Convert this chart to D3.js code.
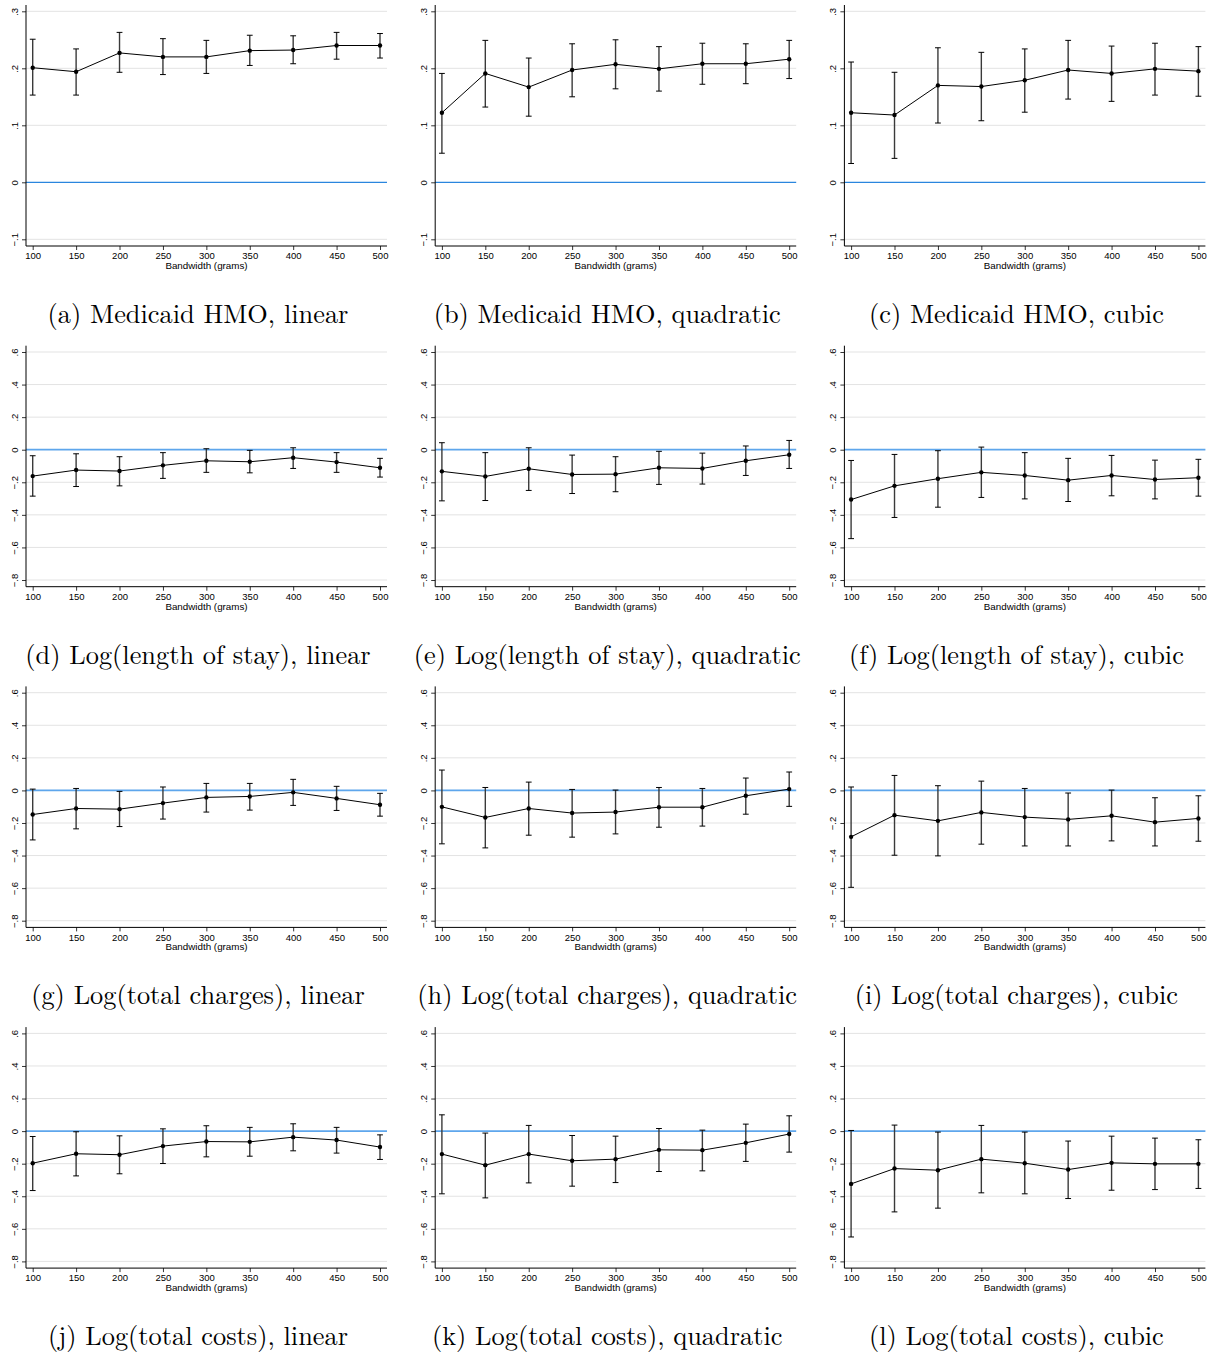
<!DOCTYPE html>
<html>
<head>
<meta charset="utf-8">
<script src="https://cdn.jsdelivr.net/npm/d3@7"></script>
<style>
  body { margin: 0; background: #fff; }
  svg { display: block; }
</style>
</head>
<body>
<div id="chart"></div>
<script>
// bandwidths on the x axis
const bandwidths = [100, 150, 200, 250, 300, 350, 400, 450, 500];

// y tick values
const yTicksHmo = [-0.1, 0, 0.1, 0.2, 0.3];
const yTicksLog = [-0.8, -0.6, -0.4, -0.2, 0, 0.2, 0.4, 0.6];

// (a) Medicaid HMO, linear
const hmoLinEst = [0.201, 0.194, 0.227, 0.220, 0.220, 0.231, 0.232, 0.240, 0.240];
const hmoLinHi  = [0.251, 0.234, 0.263, 0.252, 0.249, 0.258, 0.257, 0.263, 0.261];
const hmoLinLo  = [0.153, 0.153, 0.193, 0.189, 0.191, 0.205, 0.208, 0.216, 0.218];
// (b) Medicaid HMO, quadratic
const hmoQuadEst = [0.122, 0.191, 0.167, 0.197, 0.207, 0.199, 0.208, 0.208, 0.216];
const hmoQuadHi  = [0.191, 0.249, 0.218, 0.243, 0.250, 0.238, 0.244, 0.243, 0.249];
const hmoQuadLo  = [0.051, 0.132, 0.116, 0.150, 0.164, 0.160, 0.172, 0.173, 0.182];
// (c) Medicaid HMO, cubic
const hmoCubEst = [0.122, 0.118, 0.170, 0.168, 0.179, 0.197, 0.191, 0.199, 0.195];
const hmoCubHi  = [0.211, 0.193, 0.236, 0.228, 0.234, 0.249, 0.239, 0.244, 0.238];
const hmoCubLo  = [0.033, 0.042, 0.104, 0.108, 0.123, 0.146, 0.142, 0.153, 0.151];

// (d) Log(length of stay), linear
const losLinEst = [-0.162, -0.125, -0.131, -0.096, -0.068, -0.074, -0.049, -0.076, -0.111];
const losLinHi  = [-0.037, -0.025, -0.043, -0.018, 0.006, -0.004, 0.012, -0.018, -0.053];
const losLinLo  = [-0.285, -0.226, -0.222, -0.176, -0.139, -0.142, -0.115, -0.139, -0.168];
// (e) Log(length of stay), quadratic
const losQuadEst = [-0.133, -0.164, -0.117, -0.152, -0.150, -0.111, -0.115, -0.068, -0.031];
const losQuadHi  = [0.043, -0.018, 0.012, -0.033, -0.043, -0.010, -0.021, 0.023, 0.057];
const losQuadLo  = [-0.314, -0.312, -0.250, -0.269, -0.258, -0.213, -0.211, -0.158, -0.115];
// (f) Log(length of stay), cubic
const losCubEst = [-0.306, -0.222, -0.178, -0.139, -0.158, -0.187, -0.158, -0.183, -0.172];
const losCubHi  = [-0.066, -0.029, -0.006, 0.016, -0.018, -0.053, -0.035, -0.064, -0.059];
const losCubLo  = [-0.546, -0.416, -0.353, -0.293, -0.302, -0.318, -0.283, -0.302, -0.285];

// (g) Log(total charges), linear
const chgLinEst = [-0.148, -0.111, -0.115, -0.078, -0.043, -0.037, -0.012, -0.049, -0.088];
const chgLinHi  = [0.008, 0.012, -0.006, 0.021, 0.043, 0.043, 0.068, 0.025, -0.018];
const chgLinLo  = [-0.304, -0.236, -0.222, -0.176, -0.133, -0.121, -0.092, -0.123, -0.158];
// (h) Log(total charges), quadratic
const chgQuadEst = [-0.101, -0.166, -0.111, -0.139, -0.133, -0.103, -0.103, -0.033, 0.008];
const chgQuadHi  = [0.125, 0.018, 0.051, 0.006, 0.002, 0.018, 0.012, 0.076, 0.113];
const chgQuadLo  = [-0.328, -0.353, -0.275, -0.287, -0.267, -0.226, -0.219, -0.146, -0.098];
// (i) Log(total charges), cubic
const chgCubEst = [-0.285, -0.152, -0.187, -0.135, -0.164, -0.178, -0.156, -0.195, -0.172];
const chgCubHi  = [0.021, 0.092, 0.029, 0.057, 0.012, -0.016, 0.002, -0.045, -0.033];
const chgCubLo  = [-0.595, -0.398, -0.402, -0.330, -0.341, -0.341, -0.310, -0.341, -0.312];

// (j) Log(total costs), linear
const costLinEst = [-0.197, -0.139, -0.145, -0.092, -0.064, -0.066, -0.037, -0.055, -0.098];
const costLinHi  = [-0.033, -0.004, -0.029, 0.014, 0.033, 0.023, 0.045, 0.023, -0.023];
const costLinLo  = [-0.365, -0.275, -0.262, -0.199, -0.158, -0.154, -0.121, -0.135, -0.174];
// (k) Log(total costs), quadratic
const costQuadEst = [-0.141, -0.209, -0.141, -0.182, -0.172, -0.115, -0.117, -0.072, -0.018];
const costQuadHi  = [0.100, -0.012, 0.035, -0.027, -0.031, 0.016, 0.006, 0.043, 0.094];
const costQuadLo  = [-0.385, -0.410, -0.318, -0.338, -0.316, -0.248, -0.244, -0.186, -0.129];
// (l) Log(total costs), cubic
const costCubEst = [-0.324, -0.230, -0.240, -0.172, -0.197, -0.236, -0.195, -0.201, -0.201];
const costCubHi  = [0.004, 0.037, -0.006, 0.035, -0.006, -0.061, -0.031, -0.043, -0.053];
const costCubLo  = [-0.650, -0.496, -0.473, -0.379, -0.385, -0.414, -0.363, -0.359, -0.352];

const panels = [
  { caption: '(a) Medicaid HMO, linear', est: hmoLinEst, lo: hmoLinLo, hi: hmoLinHi, ticks: yTicksHmo },
  { caption: '(b) Medicaid HMO, quadratic', est: hmoQuadEst, lo: hmoQuadLo, hi: hmoQuadHi, ticks: yTicksHmo },
  { caption: '(c) Medicaid HMO, cubic', est: hmoCubEst, lo: hmoCubLo, hi: hmoCubHi, ticks: yTicksHmo },
  { caption: '(d) Log(length of stay), linear', est: losLinEst, lo: losLinLo, hi: losLinHi, ticks: yTicksLog },
  { caption: '(e) Log(length of stay), quadratic', est: losQuadEst, lo: losQuadLo, hi: losQuadHi, ticks: yTicksLog },
  { caption: '(f) Log(length of stay), cubic', est: losCubEst, lo: losCubLo, hi: losCubHi, ticks: yTicksLog },
  { caption: '(g) Log(total charges), linear', est: chgLinEst, lo: chgLinLo, hi: chgLinHi, ticks: yTicksLog },
  { caption: '(h) Log(total charges), quadratic', est: chgQuadEst, lo: chgQuadLo, hi: chgQuadHi, ticks: yTicksLog },
  { caption: '(i) Log(total charges), cubic', est: chgCubEst, lo: chgCubLo, hi: chgCubHi, ticks: yTicksLog },
  { caption: '(j) Log(total costs), linear', est: costLinEst, lo: costLinLo, hi: costLinHi, ticks: yTicksLog },
  { caption: '(k) Log(total costs), quadratic', est: costQuadEst, lo: costQuadLo, hi: costQuadHi, ticks: yTicksLog },
  { caption: '(l) Log(total costs), cubic', est: costCubEst, lo: costCubLo, hi: costCubHi, ticks: yTicksLog }
];

const W = 1219, H = 1355;
const plotW = 361;      // width of each plot region
const plotH = 241;      // height of each plot region (axis top to x axis)
const colX = c => 26 + c * 409.2;
const rowY = r => 5 + r * 340.7;

const sansFont = '"Liberation Sans", Arial, Helvetica, sans-serif';
const serifFont = '"Latin Modern Roman", "CMU Serif", "Liberation Serif", "Times New Roman", serif';

const svg = d3.select('#chart').append('svg')
  .attr('width', W)
  .attr('height', H)
  .style('background', '#fff');

// stata-ish tick labels: .2, 0, −.4
const fmtTick = v => {
  if (Math.abs(v) < 1e-9) return '0';
  const s = d3.format('.1f')(Math.abs(v)).replace(/^0/, '');
  return (v < 0 ? '\u2212' : '') + s;
};

// caption font size fitted to the reference width of caption (a)
const probe = svg.append('text')
  .style('font-family', serifFont)
  .style('font-size', '20px')
  .text(panels[0].caption);
const capSize = 20 * 301 / probe.node().getComputedTextLength();
probe.remove();

panels.forEach((p, i) => {
  const c = i % 3, r = Math.floor(i / 3);
  const ax = colX(c), top = rowY(r);
  const bottom = top + plotH;

  const x = d3.scaleLinear().domain([100, 500]).range([ax + 6.7, ax + 354]);
  const yDom = d3.extent(p.ticks);
  const y = d3.scaleLinear().domain(yDom).range([top + 234.3, top + 6.3]);

  const g = svg.append('g');

  // gridlines
  g.append('g').selectAll('line')
    .data(p.ticks.filter(t => Math.abs(t) > 1e-9))
    .join('line')
    .attr('x1', ax).attr('x2', ax + plotW)
    .attr('y1', d => y(d)).attr('y2', d => y(d))
    .attr('stroke', '#e3e3e3')
    .attr('stroke-width', 1);

  // zero reference line
  g.append('line')
    .attr('x1', ax).attr('x2', ax + plotW)
    .attr('y1', y(0)).attr('y2', y(0))
    .attr('stroke', r === 0 ? '#2a86de' : '#5ea6ec')
    .attr('stroke-width', r === 0 ? 1.2 : 1.8);

  // Y axis
  const yAxis = g.append('g')
    .attr('transform', 'translate(' + ax + ',0)')
    .call(d3.axisLeft(y).tickValues(p.ticks).tickFormat(fmtTick).tickSize(4).tickSizeOuter(0));
  yAxis.select('.domain').remove();
  yAxis.selectAll('line').attr('stroke', '#000').attr('stroke-width', 0.8);
  yAxis.selectAll('text')
    .attr('transform', 'rotate(-90)')
    .attr('x', 0)
    .attr('y', -8.5)
    .attr('dy', 0)
    .style('text-anchor', 'middle')
    .style('font-family', sansFont)
    .style('font-size', '9.5px')
    .attr('fill', '#000');

  // X axis
  const xAxis = g.append('g')
    .attr('transform', 'translate(0,' + bottom + ')')
    .call(d3.axisBottom(x).tickValues(bandwidths).tickFormat(d3.format('d')).tickSize(4).tickPadding(2.5).tickSizeOuter(0));
  xAxis.select('.domain').remove();
  xAxis.selectAll('line').attr('stroke', '#000').attr('stroke-width', 0.8);
  xAxis.selectAll('text')
    .style('font-family', sansFont)
    .style('font-size', '9.5px')
    .attr('fill', '#000');

  // axis lines
  g.append('line')
    .attr('x1', ax).attr('x2', ax)
    .attr('y1', top).attr('y2', bottom)
    .attr('stroke', '#000').attr('stroke-width', 1);
  g.append('line')
    .attr('x1', ax).attr('x2', ax + plotW)
    .attr('y1', bottom).attr('y2', bottom)
    .attr('stroke', '#000').attr('stroke-width', 1);

  // X axis title
  g.append('text')
    .attr('x', ax + 180.5)
    .attr('y', bottom + 23)
    .style('text-anchor', 'middle')
    .style('font-family', sansFont)
    .style('font-size', '9.8px')
    .attr('fill', '#000')
    .text('Bandwidth (grams)');

  const rows = bandwidths.map((b, k) => ({ b: b, est: p.est[k], lo: p.lo[k], hi: p.hi[k] }));

  // error bars
  const bars = g.append('g').selectAll('g').data(rows).join('g');
  bars.append('line')
    .attr('x1', d => x(d.b)).attr('x2', d => x(d.b))
    .attr('y1', d => y(d.lo)).attr('y2', d => y(d.hi))
    .attr('stroke', '#3a3a3a').attr('stroke-width', 1.4);
  bars.append('line')
    .attr('x1', d => x(d.b) - 2.9).attr('x2', d => x(d.b) + 2.9)
    .attr('y1', d => y(d.hi)).attr('y2', d => y(d.hi))
    .attr('stroke', '#000').attr('stroke-width', 1);
  bars.append('line')
    .attr('x1', d => x(d.b) - 2.9).attr('x2', d => x(d.b) + 2.9)
    .attr('y1', d => y(d.lo)).attr('y2', d => y(d.lo))
    .attr('stroke', '#000').attr('stroke-width', 1);

  // connecting line
  const line = d3.line()
    .x(d => x(d.b))
    .y(d => y(d.est));
  g.append('path')
    .datum(rows)
    .attr('fill', 'none')
    .attr('stroke', '#000')
    .attr('stroke-width', 1)
    .attr('d', line);

  // point estimates
  g.append('g').selectAll('circle')
    .data(rows)
    .join('circle')
    .attr('cx', d => x(d.b))
    .attr('cy', d => y(d.est))
    .attr('r', 2.2)
    .attr('fill', '#000');

  // caption
  svg.append('text')
    .attr('x', ax + 172)
    .attr('y', top + 318)
    .style('text-anchor', 'middle')
    .style('font-family', serifFont)
    .style('font-size', capSize + 'px')
    .attr('fill', '#000')
    .text(p.caption);
});
</script>
</body>
</html>
